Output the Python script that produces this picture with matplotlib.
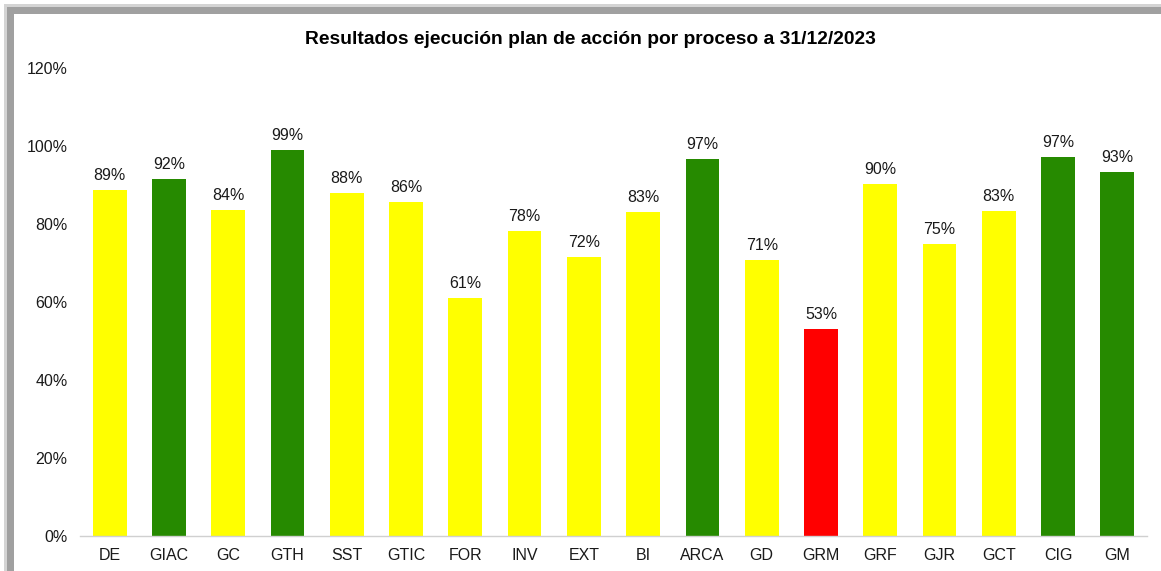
import matplotlib.pyplot as plt
from matplotlib.patches import Rectangle
from matplotlib.ticker import PercentFormatter

plt.rcParams['font.family'] = ['Liberation Sans', 'DejaVu Sans']

procesos = ["DE", "GIAC", "GC", "GTH", "SST", "GTIC", "FOR", "INV", "EXT",
            "BI", "ARCA", "GD", "GRM", "GRF", "GJR", "GCT", "CIG", "GM"]
ejecucion = [88.7, 91.6, 83.6, 99.0, 87.9, 85.7, 61.0, 78.2, 71.6,
             83.2, 96.6, 70.8, 53.1, 90.3, 74.9, 83.3, 97.1, 93.3]
colores = ["#FFFF00", "#268A00", "#FFFF00", "#268A00", "#FFFF00", "#FFFF00",
           "#FFFF00", "#FFFF00", "#FFFF00", "#FFFF00", "#268A00", "#FFFF00",
           "#FF0000", "#FFFF00", "#FFFF00", "#FFFF00", "#268A00", "#268A00"]

W, H = 1161, 571
fig = plt.figure(figsize=(W / 100, H / 100), dpi=100)

# marco con sombra gris (estilo Excel)
fig.patches.append(Rectangle((4 / W, 0), 1, 1 - 4 / H, transform=fig.transFigure,
                             facecolor="#d4d4d4", edgecolor="none", zorder=-3))
fig.patches.append(Rectangle((7 / W, 0), 1, 1 - 7 / H, transform=fig.transFigure,
                             facecolor="#a0a0a0", edgecolor="none", zorder=-2))
fig.patches.append(Rectangle((14 / W, 0), 1, 1 - 14 / H, transform=fig.transFigure,
                             facecolor="white", edgecolor="none", zorder=-1))

ax = fig.add_axes([80 / W, 1 - 536 / H, (1147 - 80) / W, (536 - 68) / H])
ax.set_zorder(2)
ax.set_facecolor("none")

x = range(len(procesos))
bars = ax.bar(x, ejecucion, width=0.57, color=colores, edgecolor="none", zorder=2)

for b, v in zip(bars, ejecucion):
    ax.annotate(f"{v:.0f}%", (b.get_x() + b.get_width() / 2, v), xytext=(0, 5),
                textcoords="offset points", ha="center", va="bottom",
                fontsize=11.5, color="#1a1a1a")

ax.set_xlim(-0.5, len(procesos) - 0.5)
ax.set_ylim(0, 120)
ax.set_yticks(range(0, 121, 20))
ax.yaxis.set_major_formatter(PercentFormatter(decimals=0))
ax.set_xticks(list(x))
ax.set_xticklabels(procesos)
ax.tick_params(axis="both", length=0, labelsize=11.5, colors="#1a1a1a")
ax.tick_params(axis="y", pad=9)
ax.tick_params(axis="x", pad=9)

for s in ["top", "right", "left"]:
    ax.spines[s].set_visible(False)
ax.spines["bottom"].set_color("#d0d0d0")
ax.spines["bottom"].set_linewidth(1)

fig.text(590 / W, 1 - 39 / H, "Resultados ejecución plan de acción por proceso a 31/12/2023",
         ha="center", va="center", fontsize=13.9, fontweight="bold", color="black",
         zorder=3)

fig.savefig("out.png", dpi=100)
